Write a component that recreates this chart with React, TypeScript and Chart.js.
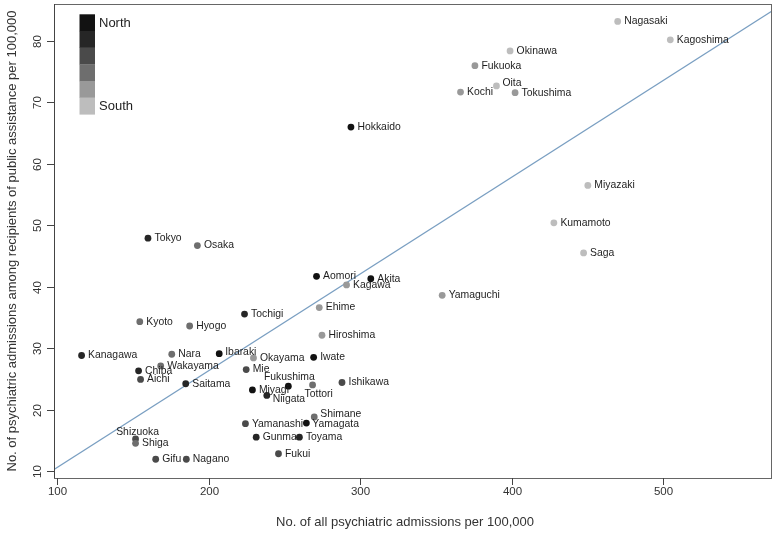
import React, { useEffect, useRef } from "react";
import { Chart, registerables } from "chart.js";

Chart.register(...registerables);

// Prefectures in JIS code order (north to south)
const prefectures = [
  "Hokkaido", "Aomori", "Iwate", "Miyagi", "Akita", "Yamagata", "Fukushima", "Ibaraki",
  "Tochigi", "Gunma", "Saitama", "Chiba", "Tokyo", "Kanagawa", "Niigata", "Toyama",
  "Ishikawa", "Fukui", "Yamanashi", "Nagano", "Gifu", "Shizuoka", "Aichi", "Mie",
  "Shiga", "Kyoto", "Osaka", "Hyogo", "Nara", "Wakayama", "Tottori", "Shimane",
  "Okayama", "Hiroshima", "Yamaguchi", "Tokushima", "Kagawa", "Ehime", "Kochi", "Fukuoka",
  "Saga", "Nagasaki", "Kumamoto", "Oita", "Miyazaki", "Kagoshima", "Okinawa",
];

// No. of all psychiatric admissions per 100,000
const allAdmissions = [
  293.9, 271.2, 269.3, 228.9, 307.0, 264.5, 252.6, 207.0,
  223.7, 231.4, 184.9, 153.8, 160.0, 116.2, 238.4, 259.9,
  288.0, 246.1, 224.3, 185.3, 165.1, 151.8, 155.1, 224.8,
  151.8, 154.6, 192.6, 187.5, 175.7, 168.4, 268.6, 269.7,
  229.6, 274.8, 354.1, 402.2, 291.0, 273.0, 366.2, 375.7,
  447.4, 469.9, 427.8, 389.9, 450.2, 504.6, 398.9,
];

// No. of psychiatric admissions among recipients of public assistance per 100,000
const assistanceAdmissions = [
  66.0, 41.7, 28.5, 23.2, 41.3, 17.8, 23.8, 29.1,
  35.55, 15.5, 24.2, 26.3, 47.9, 28.8, 22.3, 15.5,
  24.4, 12.8, 17.7, 11.9, 11.9, 15.2, 24.9, 26.5,
  14.5, 34.3, 46.7, 33.6, 29.0, 27.1, 24.0, 18.8,
  28.4, 32.1, 38.6, 71.6, 40.3, 36.6, 71.7, 76.0,
  45.5, 83.2, 50.4, 72.7, 56.5, 80.2, 78.4,
];

// Six north-to-south groups (0 = North ... 5 = South)
const regionGroup = [
  0, 0, 0, 0, 0, 0, 0, 0,
  1, 1, 1, 1, 1, 1, 1, 1,
  2, 2, 2, 2, 2, 2, 2, 2,
  3, 3, 3, 3, 3, 3, 3, 3,
  4, 4, 4, 4, 4, 4, 4, 4,
  5, 5, 5, 5, 5, 5, 5,
];

const xTicks = [100, 200, 300, 400, 500];
const yTicks = [10, 20, 30, 40, 50, 60, 70, 80];
const xLimits = [98, 571.7];
const yLimits = [8.85, 86.04];
const fitIntercept = -5.2;
const fitSlope = 0.1576;
const legendLabels = ["North", "South"];
const xTitle = "No. of all psychiatric admissions per 100,000";
const yTitle = "No. of psychiatric admissions among recipients of public assistance per 100,000";

// styles
const shades = ["#121212", "#262626", "#4a4a4a", "#6e6e6e", "#999999", "#bdbdbd"];
const FONT = "'Liberation Sans', Arial, sans-serif";
const labelOffsets: Record<string, { dx: number; dy: number; align?: CanvasTextAlign }> = {
  Shizuoka: { dx: 2, dy: -7, align: "center" },
  Fukushima: { dx: 1, dy: -9, align: "center" },
  Tottori: { dx: -8, dy: 9 },
  Niigata: { dx: 6, dy: 3.5 },
  Ibaraki: { dx: 6, dy: -1.5 },
  Shimane: { dx: 6, dy: -3 },
  Yamagata: { dx: 6, dy: 1.5 },
  Oita: { dx: 6, dy: -2.5 },
};

const overlayPlugin = {
  id: "overlay",
  afterDatasetsDraw(chart: any) {
    const ctx = chart.ctx;
    const xs = chart.scales.x;
    const ys = chart.scales.y;
    ctx.save();
    ctx.font = `10.4px ${FONT}`;
    ctx.fillStyle = "#1e1e1e";
    ctx.textBaseline = "middle";
    prefectures.forEach((name, i) => {
      const px = xs.getPixelForValue(allAdmissions[i]);
      const py = ys.getPixelForValue(assistanceAdmissions[i]);
      const o = labelOffsets[name] || { dx: 6.5, dy: 0 };
      ctx.textAlign = o.align || "left";
      ctx.fillText(name, px + o.dx, py + o.dy);
    });
    ctx.restore();
  },
  afterDraw(chart: any) {
    const ctx = chart.ctx;
    const xs = chart.scales.x;
    const ys = chart.scales.y;
    const a = chart.chartArea;
    ctx.save();
    // box
    ctx.strokeStyle = "#666";
    ctx.lineWidth = 1;
    ctx.strokeRect(a.left + 0.5, a.top + 0.5, a.right - a.left - 1, a.bottom - a.top);
    // x ticks
    ctx.strokeStyle = "#444";
    ctx.fillStyle = "#333";
    ctx.font = `11.5px ${FONT}`;
    ctx.textAlign = "center";
    ctx.textBaseline = "middle";
    xTicks.forEach((t) => {
      const px = Math.round(xs.getPixelForValue(t)) + 0.5;
      ctx.beginPath();
      ctx.moveTo(px, a.bottom);
      ctx.lineTo(px, a.bottom + 7);
      ctx.stroke();
      ctx.fillText(String(t), px, a.bottom + 14);
    });
    // y ticks (rotated labels)
    yTicks.forEach((t) => {
      const py = Math.round(ys.getPixelForValue(t)) + 0.5;
      ctx.beginPath();
      ctx.moveTo(a.left - 7, py);
      ctx.lineTo(a.left, py);
      ctx.stroke();
      ctx.save();
      ctx.translate(a.left - 16, py);
      ctx.rotate(-Math.PI / 2);
      ctx.fillText(String(t), 0, 0);
      ctx.restore();
    });
    // left axis line
    ctx.beginPath();
    ctx.moveTo(a.left + 0.5, a.top);
    ctx.lineTo(a.left + 0.5, a.bottom);
    ctx.stroke();
    // titles
    ctx.font = `13px ${FONT}`;
    ctx.fillStyle = "#333";
    ctx.fillText(xTitle, (a.left + a.right) / 2 - 8, a.bottom + 44);
    ctx.save();
    ctx.translate(12, (a.top + a.bottom) / 2);
    ctx.rotate(-Math.PI / 2);
    ctx.fillText(yTitle, 0, 0);
    ctx.restore();
    // legend
    const lx = 79.5;
    const ly = 14.3;
    const bw = 15.5;
    const bh = 100 / shades.length;
    shades.forEach((c, i) => {
      ctx.fillStyle = c;
      ctx.fillRect(lx, ly + i * bh, bw, bh + 0.3);
    });
    ctx.fillStyle = "#222";
    ctx.font = `13px ${FONT}`;
    ctx.textAlign = "left";
    ctx.fillText(legendLabels[0], lx + bw + 4, ly + 9);
    ctx.fillText(legendLabels[1], lx + bw + 4, ly + 100 - 8);
    ctx.restore();
  },
};

export default function App() {
  const ref = useRef<HTMLCanvasElement>(null);
  useEffect(() => {
    document.body.style.margin = "0";
    const canvas = ref.current!;
    const points = prefectures.map((_, i) => ({ x: allAdmissions[i], y: assistanceAdmissions[i] }));
    const chart = new Chart(canvas, {
      type: "scatter",
      data: {
        datasets: [
          {
            data: points,
            pointRadius: 3.4,
            pointBorderWidth: 0,
            pointBackgroundColor: regionGroup.map((g) => shades[g]),
            pointBorderColor: regionGroup.map((g) => shades[g]),
          } as any,
          {
            type: "line",
            data: [
              { x: xLimits[0], y: fitIntercept + fitSlope * xLimits[0] },
              { x: xLimits[1], y: fitIntercept + fitSlope * xLimits[1] },
            ],
            borderColor: "#7a9fc2",
            borderWidth: 1.3,
            pointRadius: 0,
            fill: false,
          } as any,
        ],
      },
      options: {
        responsive: false,
        animation: false,
        events: [],
        layout: { padding: { left: 54, top: 1, right: 2, bottom: 55 } },
        plugins: { legend: { display: false }, tooltip: { enabled: false } },
        scales: {
          x: { type: "linear", display: false, min: xLimits[0], max: xLimits[1] },
          y: { type: "linear", display: false, min: yLimits[0], max: yLimits[1] },
        },
      },
      plugins: [overlayPlugin],
    });
    return () => chart.destroy();
  }, []);
  return (
    <div style={{ position: "absolute", left: 0, top: 0, width: 776, height: 533, background: "#fff" }}>
      <canvas ref={ref} width={776} height={533} />
    </div>
  );
}
